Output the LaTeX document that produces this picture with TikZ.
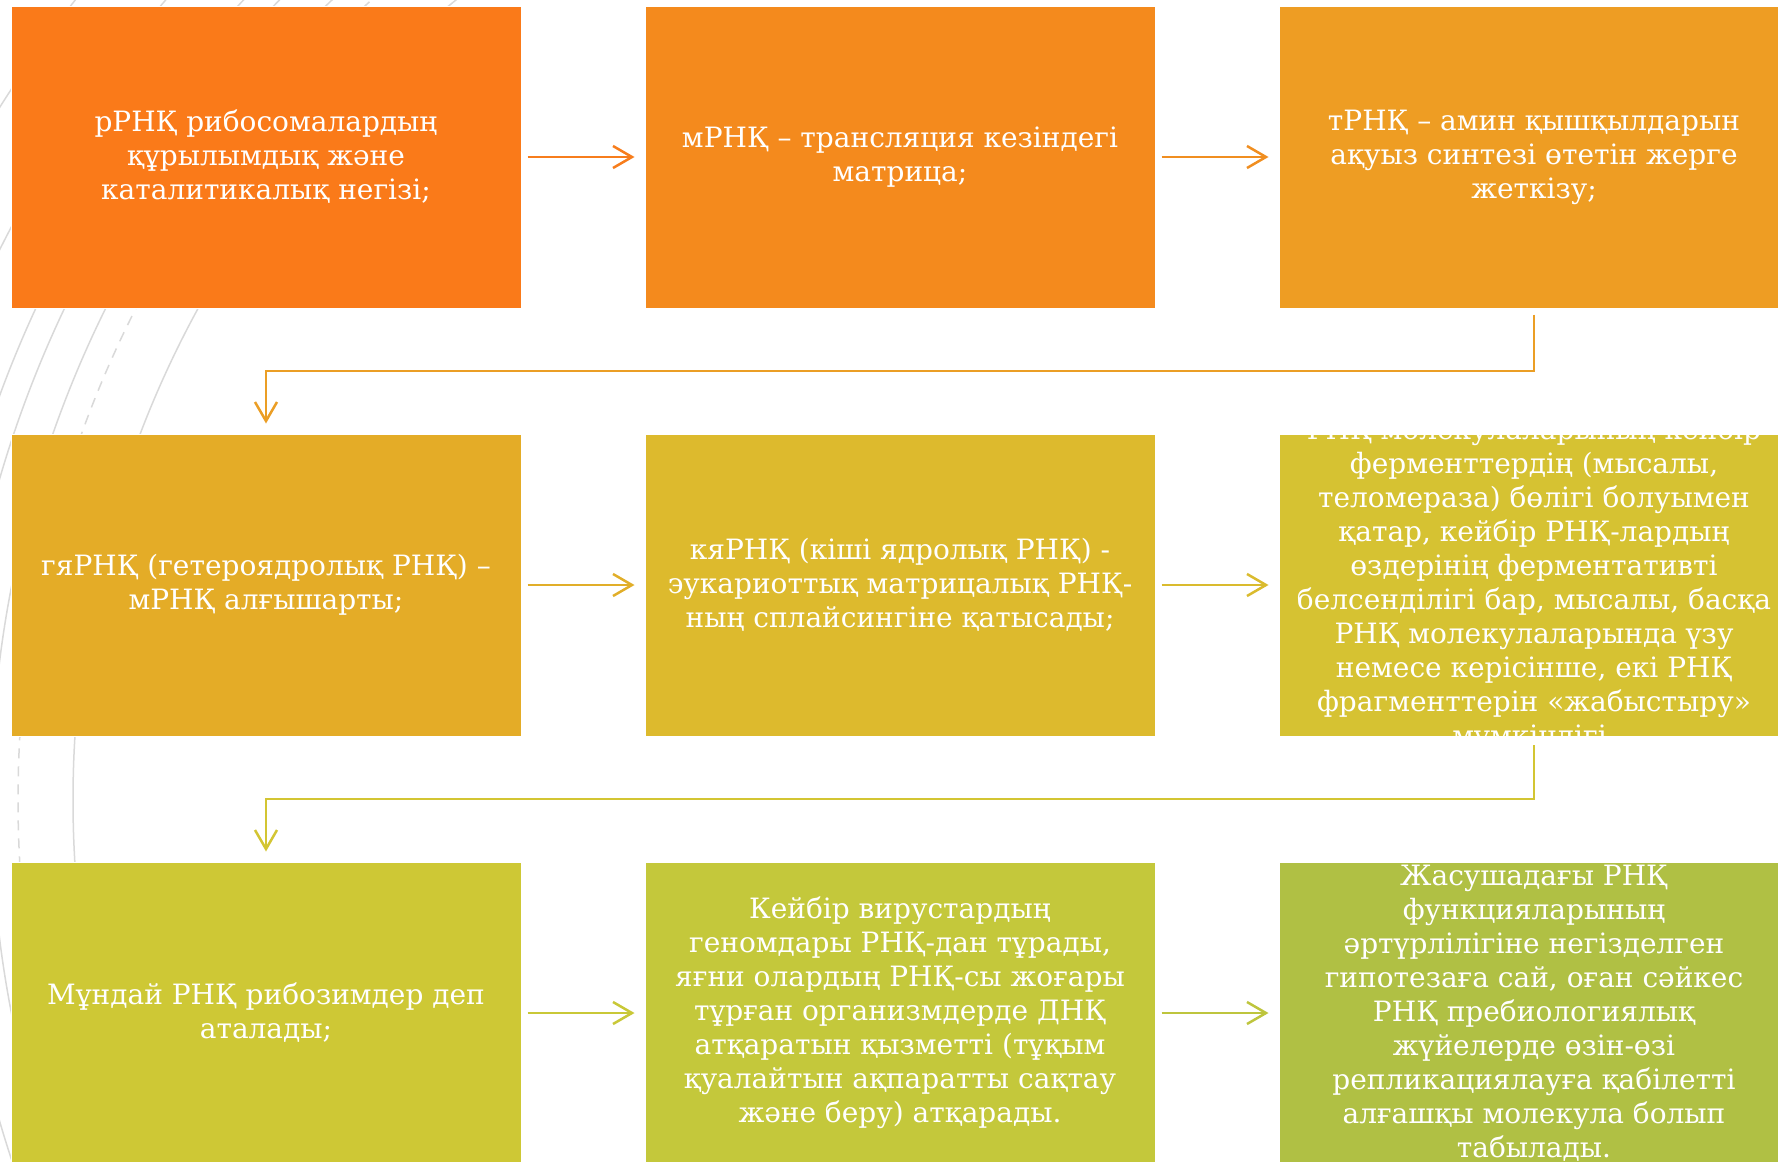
\documentclass[tikz,border=0pt]{standalone}
\usepackage{fontspec}
\setmainfont{DejaVu Serif}
\usetikzlibrary{calc,arrows.meta}
\pgfdeclarelayer{bg}
\pgfsetlayers{bg,main}
\definecolor{c1}{HTML}{FA7A19}
\definecolor{c2}{HTML}{F48A1D}
\definecolor{c3}{HTML}{EE9D23}
\definecolor{c4}{HTML}{E4AC27}
\definecolor{c5}{HTML}{DDBA2D}
\definecolor{c6}{HTML}{D6C232}
\definecolor{c7}{HTML}{CEC835}
\definecolor{c8}{HTML}{C4C83B}
\definecolor{c9}{HTML}{B0C044}
\definecolor{a1}{HTML}{F77D1C}
\definecolor{a2}{HTML}{F08E20}
\definecolor{a3}{HTML}{EB9E25}
\definecolor{a4}{HTML}{E1AE29}
\definecolor{a5}{HTML}{DABB2E}
\definecolor{a6}{HTML}{D3C533}
\definecolor{a7}{HTML}{C9C837}
\definecolor{a8}{HTML}{BEC53D}
\definecolor{decogray}{HTML}{D9D9D9}
\tikzset{
  box/.style={rectangle, minimum width=510pt, minimum height=302pt, inner sep=0pt,
    draw=white, line width=1pt},
  txt/.style={inner sep=0pt, text=white, align=center,
    font=\fontsize{28}{34}\selectfont},
  conn/.style={line width=2.5pt, -{Straight Barb[length=19pt,width=22pt,line width=2.5pt]},
    shorten <=6pt, shorten >=10pt},
  deco/.style={draw=decogray, line width=1.5pt}
}
\begin{document}
\begin{tikzpicture}[x=1pt,y=-1pt]
\useasboundingbox (0,0) rectangle (1778,1162);
\clip (0,0) rectangle (1778,1162);

\node[box, fill=c1] (b1) at (266,157) {};
\node[box, fill=c2] (b2) at (900,157) {};
\node[box, fill=c3] (b3) at (1534,157) {};
\node[box, fill=c4] (b4) at (266,585) {};
\node[box, fill=c5] (b5) at (900,585) {};
\node[box, fill=c6] (b6) at (1534,585) {};
\node[box, fill=c7] (b7) at (266,1013) {};
\node[box, fill=c8] (b8) at (900,1013) {};
\node[box, fill=c9] (b9) at (1534,1013) {};

\node[txt] (t1) at (b1.center) {рРНҚ рибосомалардың\\құрылымдық және\\каталитикалық негізі;};
\node[txt] (t2) at (b2.center) {мРНҚ – трансляция кезіндегі\\матрица;};
\node[txt] (t3) at (b3.center) {тРНҚ – амин қышқылдарын\\ақуыз синтезі өтетін жерге\\жеткізу;};
\node[txt] (t4) at (b4.center) {гяРНҚ (гетероядролық РНҚ) –\\мРНҚ алғышарты;};
\node[txt] (t5) at (b5.center) {кяРНҚ (кіші ядролық РНҚ) -\\эукариоттық матрицалық РНҚ-\\ның сплайсингіне қатысады;};
\node[txt] (t6) at (b6.center) {РНҚ молекулаларының кейбір\\ферменттердің (мысалы,\\теломераза) бөлігі болуымен\\қатар, кейбір РНҚ-лардың\\өздерінің ферментативті\\белсенділігі бар, мысалы, басқа\\РНҚ молекулаларында үзу\\немесе керісінше, екі РНҚ\\фрагменттерін «жабыстыру»\\мүмкіндігі.};
\node[txt] (t7) at (b7.center) {Мұндай РНҚ рибозимдер деп\\аталады;};
\node[txt] (t8) at (b8.center) {Кейбір вирустардың\\геномдары РНҚ-дан тұрады,\\яғни олардың РНҚ-сы жоғары\\тұрған организмдерде ДНҚ\\атқаратын қызметті (тұқым\\қуалайтын ақпаратты сақтау\\және беру) атқарады.};
\node[txt] (t9) at (b9.center) {Жасушадағы РНҚ\\функцияларының\\әртүрлілігіне негізделген\\гипотезаға сай, оған сәйкес\\РНҚ пребиологиялық\\жүйелерде өзін-өзі\\репликациялауға қабілетті\\алғашқы молекула болып\\табылады.};

\coordinate (m1) at ($(b3.south)!0.5!(b4.north)$);
\coordinate (m2) at ($(b6.south)!0.5!(b7.north)$);

\begin{pgfonlayer}{bg}
  \begin{scope}[deco]
    \clip (0,0) rectangle (640,1162);
    \foreach \r in {1300,1230,1172,1146,1109,1027}
      \draw (1100,800) circle (\r pt);
    \draw[dash pattern=on 10pt off 8pt] (1100,800) circle (1082pt);
  \end{scope}
  \draw[conn, a1] (b1.east) -- (b2.west);
  \draw[conn, a2] (b2.east) -- (b3.west);
  \draw[conn, a3] (b3.south) -- (b3.south |- m1) -| (b4.north);
  \draw[conn, a4] (b4.east) -- (b5.west);
  \draw[conn, a5] (b5.east) -- (b6.west);
  \draw[conn, a6] (b6.south) -- (b6.south |- m2) -| (b7.north);
  \draw[conn, a7] (b7.east) -- (b8.west);
  \draw[conn, a8] (b8.east) -- (b9.west);
\end{pgfonlayer}
\end{tikzpicture}
\end{document}
